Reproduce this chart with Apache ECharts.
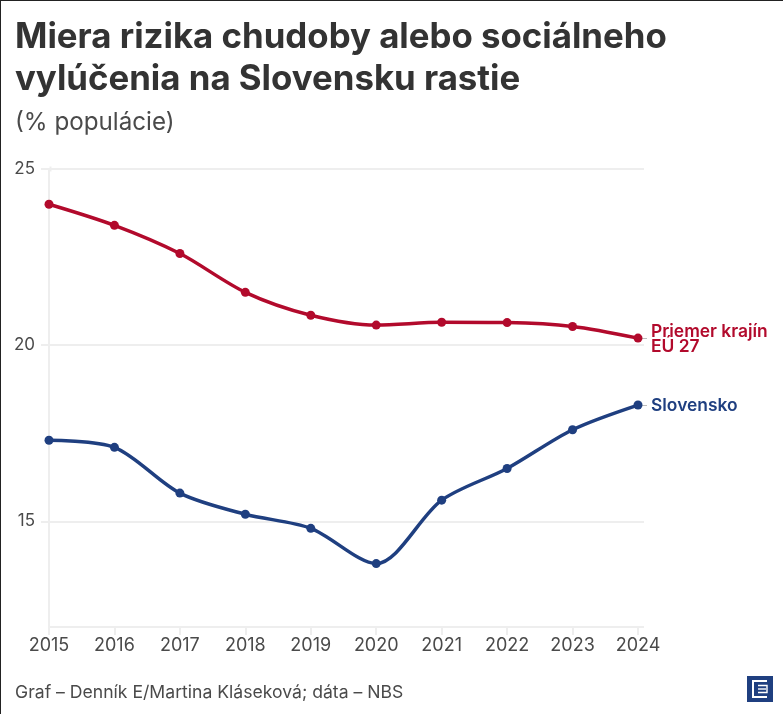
<!DOCTYPE html>
<html><head><meta charset="utf-8">
<style>html,body{margin:0;padding:0;background:#fff}#c{width:783px;height:714px;box-sizing:border-box;position:relative}
#f{position:absolute;left:0;top:0;width:783px;height:714px;box-sizing:border-box;border-left:1.5px solid #222;border-top:1.5px solid #222;pointer-events:none}</style>
<script src="https://cdn.jsdelivr.net/npm/echarts@6/dist/echarts.min.js"></script>
</head><body><div id="c"></div><div id="f"></div>
<script>
const years=['2015','2016','2017','2018','2019','2020','2021','2022','2023','2024'];
const euValues=[24.0,23.4,22.6,21.5,20.85,20.57,20.65,20.64,20.53,20.2];
const skValues=[17.3,17.1,15.8,15.2,14.8,13.8,15.6,16.5,17.6,18.3];
const yTicks=[15,20,25];
const yTicksRight=[12,15,20,25];
const euName='Priemer krajín\nEÚ 27';
const skName='Slovensko';
const titleText='Miera rizika chudoby alebo sociálneho\nvylúčenia na Slovensku rastie';
const subtitleText='(% populácie)';
const sourceText='Graf – Denník E/Martina Kláseková; dáta – NBS';
const FONT='Inter';
const GRID='#eeeeee', RED='#b20a2c', BLUE='#1f3f80', TXT='#4a4a4a';
const chart=echarts.init(document.getElementById('c'),null,{renderer:'canvas'});
function ser(name,data,color,lh){const last=data[data.length-1];return {name,type:'line',z:3,data,smooth:0.3,symbol:'circle',symbolSize:9,
  lineStyle:{color,width:3.5},itemStyle:{color},
  endLabel:{show:true,formatter:name,color,fontFamily:FONT,fontWeight:600,fontSize:17.4,lineHeight:lh,distance:13,offset:[0,1],align:'left',verticalAlign:'middle'},
  markLine:{silent:true,z:1,symbol:'none',animation:false,label:{show:false},lineStyle:{color:'#bbbbbb',width:1,type:'solid'},
    data:[[{xAxis:years[years.length-1],yAxis:last},{x:647,yAxis:last}]]},
  animation:false};}
chart.setOption({
  animation:false,
  title:[
   {text:titleText,left:15,top:17,padding:0,textStyle:{fontFamily:FONT,fontSize:34.8,fontWeight:700,color:'#333333',lineHeight:41.5}},
   {text:subtitleText,left:15,top:111,padding:0,textStyle:{fontFamily:FONT,fontSize:24.2,fontWeight:400,color:TXT}},
   {text:sourceText,left:15,top:684,padding:0,textStyle:{fontFamily:FONT,fontSize:17.6,fontWeight:400,color:TXT}}
  ],
  grid:{left:49,right:145,top:169,bottom:87},
  xAxis:{type:'category',data:years,boundaryGap:false,
    axisLine:{show:true,lineStyle:{color:GRID,width:2}},
    axisTick:{show:true,length:8,lineStyle:{color:GRID,width:2},alignWithLabel:true},
    axisLabel:{color:TXT,fontFamily:FONT,fontSize:18,margin:10},splitLine:{show:false}},
  yAxis:[
   {type:'value',min:12,max:25,interval:1,
    axisLine:{show:true,lineStyle:{color:GRID,width:2}},
    axisTick:{show:true,length:8,lineStyle:{color:GRID,width:2},customValues:yTicks},
    axisLabel:{color:TXT,fontFamily:FONT,fontSize:17,margin:14,customValues:yTicks},
    splitLine:{show:true,lineStyle:{color:GRID,width:2}}},
   {type:'value',min:12,max:25,interval:1,position:'right',
    axisLine:{show:false},
    axisTick:{show:true,length:6,lineStyle:{color:GRID,width:2},customValues:yTicksRight},
    axisLabel:{show:false},splitLine:{show:false}}
  ],
  series:[ser(euName,euValues,RED,15),ser(skName,skValues,BLUE,18)],
  graphic:[
   {type:'line',left:48,top:164,shape:{x1:0,y1:0,x2:0,y2:5},style:{stroke:GRID,lineWidth:2}},
   {type:'group',left:747,top:676,children:[
     {type:'rect',shape:{x:0,y:0,width:26,height:26},style:{fill:BLUE}},
     {type:'polyline',shape:{points:[[20,5],[6,5],[6,21],[20,21]]},style:{stroke:'#fff',fill:null,lineWidth:2}},
     {type:'polyline',shape:{points:[[11,9.5],[20,9.5],[20,16.5],[11,16.5]]},style:{stroke:'#fff',fill:null,lineWidth:1.4}},
     {type:'line',shape:{x1:11,y1:13,x2:19,y2:13},style:{stroke:'#fff',lineWidth:1.4}}
   ]}
  ]
});
</script></body></html>
